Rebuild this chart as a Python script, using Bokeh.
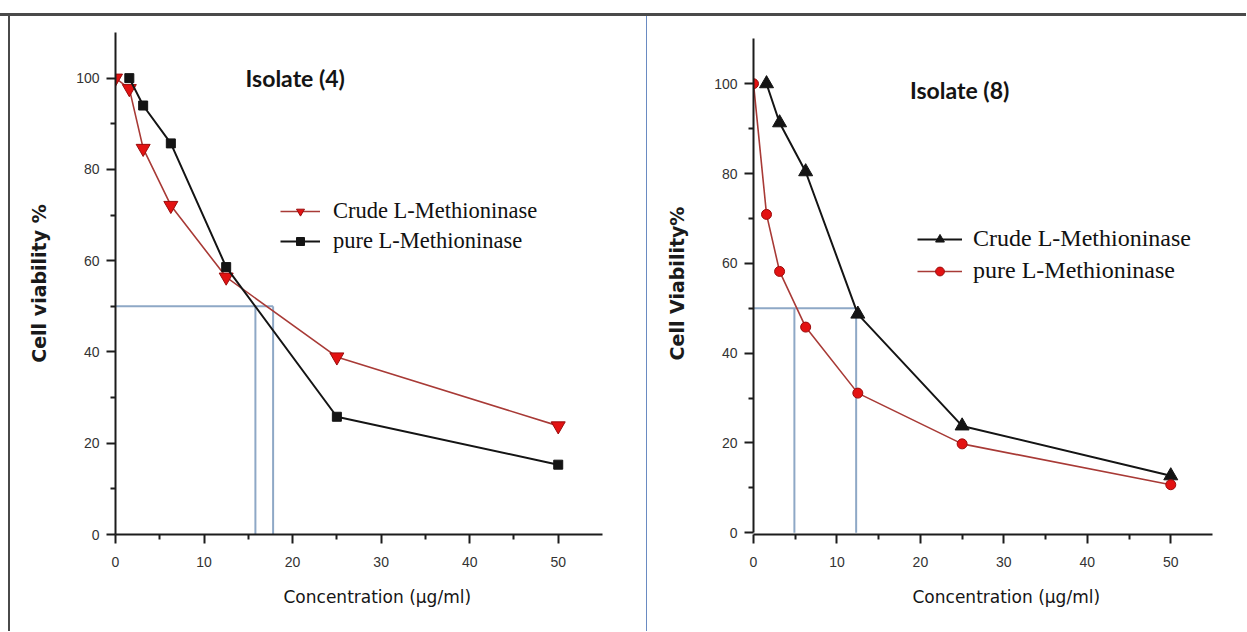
from bokeh.plotting import figure
from bokeh.layouts import row, column
from bokeh.models import Range1d, FixedTicker, Legend, LegendItem, Label, Title, Spacer
from bokeh.embed import file_html
from bokeh.resources import INLINE

# ---------------- data ----------------
conc = [0, 1.56, 3.125, 6.25, 12.5, 25, 50]

iso4_crude_x = conc
iso4_crude = [100, 97.7, 84.6, 72.1, 56.4, 38.9, 23.8]
iso4_pure_x = conc[1:]
iso4_pure = [100, 94.0, 85.7, 58.6, 25.8, 15.3]
iso4_ic50 = [15.8, 17.8]

iso8_crude_x = conc[1:]
iso8_crude = [100, 91.3, 80.4, 48.7, 23.8, 12.7]
iso8_pure_x = conc
iso8_pure = [100, 70.9, 58.2, 45.8, 31.1, 19.8, 10.7]
iso8_ic50 = [4.9, 12.3]

half_level = 50
x_major = [0, 10, 20, 30, 40, 50]
x_minor = [5, 15, 25, 35, 45]
y_major = [0, 20, 40, 60, 80, 100]
y_minor = [10, 30, 50, 70, 90]
x_max = 55
y_max = 110

RED_LINE = "#a83a36"
RED_FILL = "#e31212"
RED_EDGE = "#9a0c0c"
BLACK = "#141414"
REF_BLUE = "#8ea8c6"
AXIS = "#1c1c1c"
FRAME_DARK = "#4a4a4a"
DIVIDER = "#6a8bc2"

PANEL_H = 615
MB_TOP = 16
MB_BOTTOM = 97


def base_panel(width, mb_left, mb_right, y_range, ylabel, ystand):
    p = figure(width=width, height=PANEL_H, output_backend="svg", toolbar_location=None,
               x_range=Range1d(0, x_max), y_range=y_range,
               min_border_left=mb_left, min_border_right=mb_right,
               min_border_top=MB_TOP, min_border_bottom=MB_BOTTOM)
    p.outline_line_color = None
    p.grid.visible = False
    p.background_fill_color = "white"
    p.border_fill_color = "white"
    p.xaxis.ticker = FixedTicker(ticks=x_major, minor_ticks=x_minor)
    p.yaxis.ticker = FixedTicker(ticks=y_major, minor_ticks=y_minor)
    p.yaxis.bounds = (0, y_max)
    for ax in (p.xaxis, p.yaxis):
        ax.axis_line_width = 2
        ax.axis_line_color = AXIS
        ax.major_tick_line_width = 2
        ax.major_tick_line_color = AXIS
        ax.minor_tick_line_width = 2
        ax.minor_tick_line_color = AXIS
        ax.major_tick_in = 0
        ax.major_tick_out = 9
        ax.minor_tick_in = 0
        ax.minor_tick_out = 5
        ax.major_label_text_font = "Liberation Sans"
        ax.major_label_text_font_size = "14px"
        ax.major_label_text_color = "#333333"
    p.yaxis.major_label_standoff = 7
    p.xaxis.major_label_standoff = 13
    p.yaxis.axis_label = ylabel
    p.yaxis.axis_label_text_font = "DejaVu Sans"
    p.yaxis.axis_label_text_font_style = "bold"
    p.yaxis.axis_label_text_font_size = "19px"
    p.yaxis.axis_label_text_color = "#1a1a1a"
    p.yaxis.axis_label_standoff = ystand
    return p


def add_ref_lines(p, ic50):
    p.segment(x0=[0], y0=[half_level], x1=[max(ic50)], y1=[half_level],
              line_color=REF_BLUE, line_width=2)
    p.segment(x0=ic50, y0=[0] * len(ic50), x1=ic50, y1=[half_level] * len(ic50),
              line_color=REF_BLUE, line_width=2)


def add_xlabel(p, offset):
    p.add_layout(Title(text="Concentration  (\u00b5g/ml)", align="left", offset=offset,
                       text_font="DejaVu Sans", text_font_size="17px",
                       text_font_style="normal", text_color="#151515",
                       standoff=30), "below")


def add_title(p, x, y, text):
    p.add_layout(Label(x=x, y=y, text=text, text_font="Lato", text_font_style="bold",
                       text_font_size="23px", text_color="#141414",
                       text_align="center", text_baseline="middle"))


# ---------------- left panel: Isolate (4) ----------------
p1 = base_panel(636, 105, 44, Range1d(0, y_max), "Cell viability %", 23)
add_ref_lines(p1, iso4_ic50)
l1a = p1.line(iso4_crude_x, iso4_crude, line_color=RED_LINE, line_width=1.6)
s1a = p1.scatter(iso4_crude_x, iso4_crude, marker="inverted_triangle", size=14,
                 fill_color=RED_FILL, line_color=RED_EDGE, line_width=1)
l1b = p1.line(iso4_pure_x, iso4_pure, line_color=BLACK, line_width=2)
s1b = p1.scatter(iso4_pure_x, iso4_pure, marker="square", size=9,
                 fill_color=BLACK, line_color=BLACK)
leg1 = Legend(items=[LegendItem(label="Crude L-Methioninase", renderers=[l1a, s1a]),
                     LegendItem(label="pure L-Methioninase", renderers=[l1b, s1b])],
              location=(165, 280), glyph_width=40, glyph_height=20, spacing=4,
              label_standoff=13, padding=10, border_line_color=None,
              background_fill_alpha=0, label_text_font="Liberation Serif",
              label_text_font_size="22.5px", label_text_color="#111111")
p1.add_layout(leg1)
add_title(p1, 20.3, 100, "Isolate (4)")
add_xlabel(p1, 168)

# ---------------- right panel: Isolate (8) ----------------
p2 = base_panel(599, 106, 34, Range1d(-0.38, 111.4), "Cell Viability%", 23)
add_ref_lines(p2, iso8_ic50)
l2a = p2.line(iso8_crude_x, iso8_crude, line_color=BLACK, line_width=2)
s2a = p2.scatter(iso8_crude_x, iso8_crude, marker="triangle", size=14,
                 fill_color=BLACK, line_color=BLACK)
l2b = p2.line(iso8_pure_x, iso8_pure, line_color=RED_LINE, line_width=1.6)
s2b = p2.scatter(iso8_pure_x, iso8_pure, marker="circle", size=10,
                 fill_color=RED_FILL, line_color=RED_EDGE, line_width=1)
leg2 = Legend(items=[LegendItem(label="Crude L-Methioninase", renderers=[l2a, s2a]),
                     LegendItem(label="pure L-Methioninase", renderers=[l2b, s2b])],
              location=(164, 250), glyph_width=45, glyph_height=22, spacing=5,
              label_standoff=11, padding=10, border_line_color=None,
              background_fill_alpha=0, label_text_font="Liberation Serif",
              label_text_font_size="24px", label_text_color="#111111")
p2.add_layout(leg2)
add_title(p2, 24.7, 98.5, "Isolate (8)")
add_xlabel(p2, 159)

# ---------------- page frame ----------------
top_gap = Spacer(width=1246, height=13)
top_rule = Spacer(width=1246, height=3, styles={"background-color": FRAME_DARK})
left_gap = Spacer(width=8, height=PANEL_H)
left_rule = Spacer(width=2, height=PANEL_H, styles={"background-color": FRAME_DARK})
mid_rule = Spacer(width=1, height=PANEL_H, styles={"background-color": DIVIDER})

layout = column(top_gap, top_rule, row(left_gap, left_rule, p1, mid_rule, p2))
open("out.html", "w").write(file_html(layout, INLINE))
